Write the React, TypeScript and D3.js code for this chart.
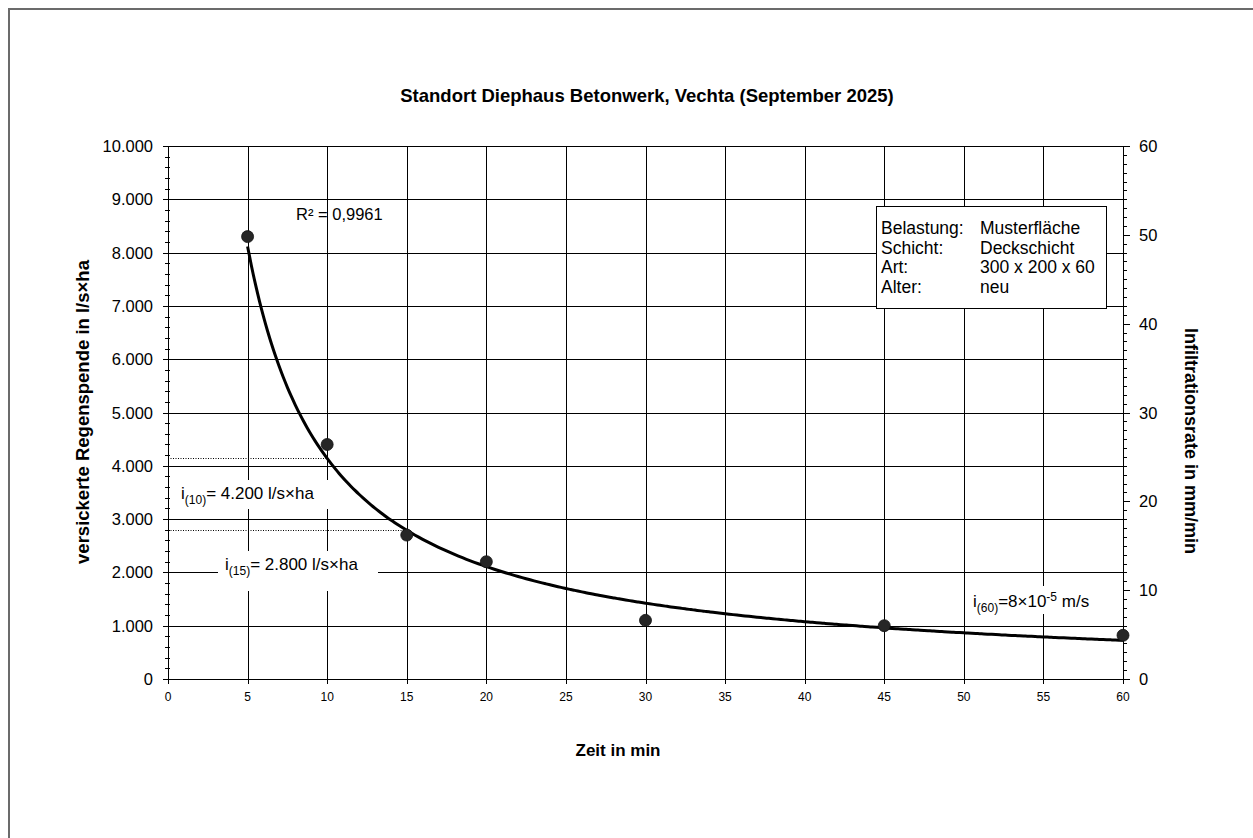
import React from 'react';
import * as d3 from 'd3';

// measured data (Zeit in min / versickerte Regenspende in l/s×ha)
const minutes = [5, 10, 15, 20, 30, 45, 60];
const rainfall = [8300, 4400, 2700, 2200, 1100, 1000, 820];

const xTicks = [0, 5, 10, 15, 20, 25, 30, 35, 40, 45, 50, 55, 60];
const leftTicks = [0, 1000, 2000, 3000, 4000, 5000, 6000, 7000, 8000, 9000, 10000];
const rightTicks = [0, 10, 20, 30, 40, 50, 60];

const legendKeys = ['Belastung:', 'Schicht:', 'Art:', 'Alter:'];
const legendValues = ['Musterfläche', 'Deckschicht', '300 x 200 x 60', 'neu'];

const title = 'Standort Diephaus Betonwerk, Vechta (September 2025)';
const rSquared = 'R² = 0,9961';

const W = 1253;
const H = 838;
const FONT = '"Liberation Sans", Arial, sans-serif';

const de = d3.formatLocale({ decimal: ',', thousands: '.', grouping: [3], currency: ['', '€'] });
const fmt = de.format(',');

// power trendline y = a * x^b, least squares in log-log space
const fitPower = (xs: number[], ys: number[]) => {
  const lx = xs.map(Math.log);
  const ly = ys.map(Math.log);
  const mx = d3.mean(lx)!;
  const my = d3.mean(ly)!;
  let sxy = 0, sxx = 0;
  lx.forEach((v, i) => {
    sxy += (v - mx) * (ly[i] - my);
    sxx += (v - mx) * (v - mx);
  });
  const b = sxy / sxx;
  const a = Math.exp(my - b * mx);
  return (x: number) => a * Math.pow(x, b);
};

const App = () => {
  const left = 168, right = 1123, top = 146, bottom = 679;

  const x = d3.scaleLinear().domain([0, 60]).range([left, right]);
  const y = d3.scaleLinear().domain([0, 10000]).range([bottom, top]);
  const y2 = d3.scaleLinear().domain([0, 60]).range([bottom, top]);

  const trend = fitPower(minutes, rainfall);
  const curveX = d3.range(5, 60.001, 0.25);
  const line = d3.line<number>()
    .x(d => x(d))
    .y(d => y(trend(d)))
    .curve(d3.curveMonotoneX);

  const px = (v: number) => Math.round(v) + 0.5;
  const leftMinor = d3.range(0, 10001, 200);
  const rightMinor = d3.range(0, 61, 1);

  const i10 = trend(10);
  const i15 = trend(15);

  return (
    <svg width={W} height={H} style={{ position: 'absolute', left: 0, top: 0 }} fontFamily={FONT}>
      <rect x={9} y={9} width={1400} height={1000} fill='#fff' stroke='#6b6b6b' strokeWidth={2} />

      {/* title */}
      <text x={647} y={102} textAnchor='middle' fontSize={18.5} fontWeight='bold' fill='#000'>{title}</text>

      {/* grid */}
      {xTicks.map(t => (
        <line key={'gx' + t} x1={px(x(t))} x2={px(x(t))} y1={px(top)} y2={px(bottom)} stroke='#000' strokeWidth={1} />
      ))}
      {leftTicks.map(t => (
        <line key={'gy' + t} x1={px(left)} x2={px(right)} y1={px(y(t))} y2={px(y(t))} stroke='#000' strokeWidth={1} />
      ))}

      {/* left axis */}
      <line x1={px(left)} x2={px(left)} y1={px(top)} y2={px(bottom)} stroke='#000' />
      {leftMinor.map(t => (
        <line key={'lm' + t} x1={left - 3} x2={left + 2} y1={px(y(t))} y2={px(y(t))} stroke='#000' />
      ))}
      {leftTicks.map(t => (
        <g key={'lt' + t}>
          <line x1={left - 5} x2={left + 2} y1={px(y(t))} y2={px(y(t))} stroke='#000' />
          <text x={153} y={y(t) + 6} textAnchor='end' fontSize={16.5} fill='#000'>{fmt(t)}</text>
        </g>
      ))}

      {/* right axis */}
      <line x1={px(right)} x2={px(right)} y1={px(top)} y2={px(bottom)} stroke='#000' />
      {rightMinor.map(t => (
        <line key={'rm' + t} x1={right} x2={right + 4} y1={px(y2(t))} y2={px(y2(t))} stroke='#000' />
      ))}
      {rightTicks.map(t => (
        <g key={'rt' + t}>
          <line x1={right} x2={right + 7} y1={px(y2(t))} y2={px(y2(t))} stroke='#000' />
          <text x={1139} y={y2(t) + 6} fontSize={16.5} fill='#000'>{t}</text>
        </g>
      ))}

      {/* bottom axis */}
      <line x1={px(left)} x2={px(right)} y1={px(bottom)} y2={px(bottom)} stroke='#000' />
      {xTicks.map(t => (
        <g key={'xt' + t}>
          <line x1={px(x(t))} x2={px(x(t))} y1={bottom - 2} y2={bottom + 5} stroke='#000' />
          <text x={x(t)} y={701} textAnchor='middle' fontSize={12} fill='#000'>{t}</text>
        </g>
      ))}

      {/* axis titles */}
      <text x={618} y={756} textAnchor='middle' fontSize={17} fontWeight='bold' fill='#000'>Zeit in min</text>
      <text transform='translate(89,412) rotate(-90)' textAnchor='middle' fontSize={18.5} fontWeight='bold' fill='#000'>
        versickerte Regenspende in l/s×ha
      </text>
      <text transform='translate(1185,328) rotate(90)' fontSize={18} fontWeight='bold' fill='#000'>
        Infiltrationsrate in mm/min
      </text>

      {/* reference lines to i(10), i(15) */}
      <line x1={left} x2={x(10)} y1={px(y(i10))} y2={px(y(i10))} stroke='#000' strokeDasharray='1,1.5' />
      <line x1={left} x2={x(15)} y1={px(y(i15))} y2={px(y(i15))} stroke='#000' strokeDasharray='1,1.5' />

      {/* annotation boxes */}
      <rect x={175} y={480} width={160} height={29} fill='#fff' />
      <text x={181} y={499} fontSize={17} fill='#000'>
        i<tspan fontSize={12} dy={5}>(10)</tspan><tspan dy={-5}>= 4.200 l/s×ha</tspan>
      </text>
      <rect x={218} y={551} width={160} height={40} fill='#fff' />
      <text x={225} y={570} fontSize={17} fill='#000'>
        i<tspan fontSize={12} dy={5}>(15)</tspan><tspan dy={-5}>= 2.800 l/s×ha</tspan>
      </text>
      <rect x={966} y={586} width={148} height={28} fill='#fff' />
      <text x={973} y={607} fontSize={17} fill='#000'>
        i<tspan fontSize={12} dy={5}>(60)</tspan><tspan dy={-5}>=8×10</tspan><tspan fontSize={12} dy={-6}>-5</tspan><tspan dy={6}> m/s</tspan>
      </text>

      {/* trendline */}
      <path d={line(curveX) || ''} fill='none' stroke='#000' strokeWidth={3} />
      <text x={296} y={220} fontSize={16.5} fill='#000'>{rSquared}</text>

      {/* points */}
      {minutes.map((m, i) => (
        <circle key={'p' + m} cx={x(m)} cy={y(rainfall[i])} r={6} fill='#262626' stroke='#111' strokeWidth={0.8} />
      ))}

      {/* legend box */}
      <rect x={876.5} y={206.5} width={230} height={102} fill='#fff' stroke='#000' />
      {legendKeys.map((k, i) => (
        <g key={k}>
          <text x={881} y={234 + i * 19.7} fontSize={17.5} fill='#000'>{k}</text>
          <text x={980} y={234 + i * 19.7} fontSize={17.5} fill='#000'>{legendValues[i]}</text>
        </g>
      ))}
    </svg>
  );
};

export default App;
